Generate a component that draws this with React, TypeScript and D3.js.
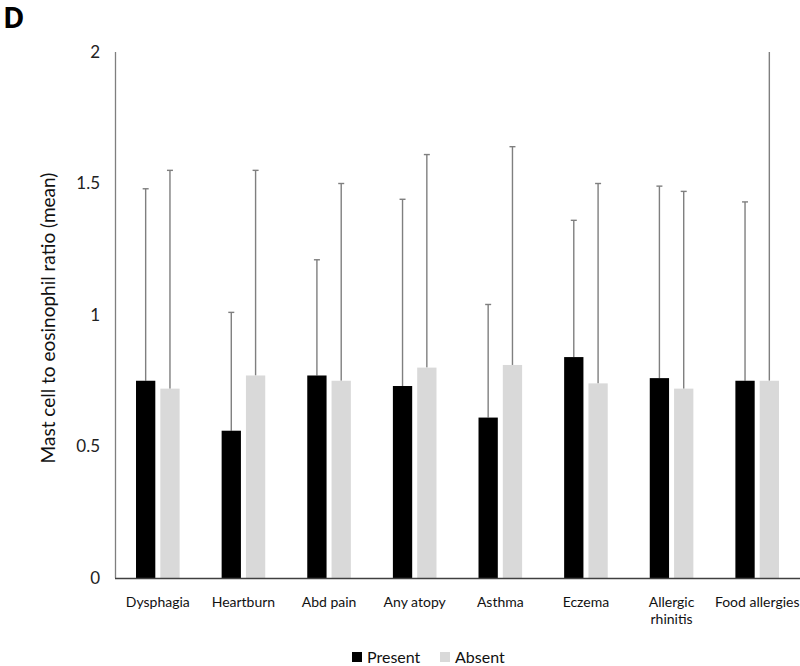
import React from "react";
import * as d3 from "d3";

const categories = [
  "Dysphagia",
  "Heartburn",
  "Abd pain",
  "Any atopy",
  "Asthma",
  "Eczema",
  "Allergic rhinitis",
  "Food allergies",
];
const seriesNames = ["Present", "Absent"];
const presentMeans = [0.75, 0.56, 0.77, 0.73, 0.61, 0.84, 0.76, 0.75];
const absentMeans = [0.72, 0.77, 0.75, 0.8, 0.81, 0.74, 0.72, 0.75];
// upper end of the error bars (mean + SD)
const presentUpper = [1.48, 1.01, 1.21, 1.44, 1.04, 1.36, 1.49, 1.43];
const absentUpper = [1.55, 1.55, 1.5, 1.61, 1.64, 1.5, 1.47, 2.05];
const yTicks = [0, 0.5, 1, 1.5, 2];

const colors: Record<string, string> = { Present: "#000000", Absent: "#d9d9d9" };
const FONT = "Lato, 'Open Sans', sans-serif";

export default function App() {
  const width = 800;
  const height = 666;
  const left = 115;
  const right = 800;
  const top = 52;
  const bottom = 578;

  const x0 = d3.scaleBand<string>().domain(categories).range([left, right]).padding(0);
  const bw = x0.bandwidth();
  const x1 = d3
    .scaleBand<string>()
    .domain(seriesNames)
    .range([bw / 2 - 21.8, bw / 2 + 21.8])
    .paddingInner(0.206)
    .paddingOuter(0);
  const y = d3.scaleLinear().domain([0, 2]).range([bottom, top]);

  const rows = categories.map((c, i) => ({
    cat: c,
    bars: [
      { s: "Present", v: presentMeans[i], hi: presentUpper[i] },
      { s: "Absent", v: absentMeans[i], hi: absentUpper[i] },
    ],
  }));

  return (
    <svg
      width={width}
      height={height}
      style={{ position: "absolute", left: 0, top: 0, background: "#fff" }}
      fontFamily={FONT}
    >
      <text x={3} y={28} fontSize={29} fontWeight="bold" fontFamily="'Open Sans', sans-serif">
        D
      </text>

      {/* y tick labels */}
      {yTicks.map((t) => (
        <text key={t} x={100} y={y(t)} dy="0.35em" textAnchor="end" fontSize={17} fill="#222">
          {d3.format("")(t)}
        </text>
      ))}

      <text
        transform={`translate(48,${(top + bottom) / 2 + 3}) rotate(-90)`}
        textAnchor="middle"
        dy="0.35em"
        fontSize={19}
        fill="#111"
      >
        Mast cell to eosinophil ratio (mean)
      </text>

      {/* error bars */}
      {rows.map((r) =>
        r.bars.map((b) => {
          const cx = (x0(r.cat) as number) + (x1(b.s) as number) + x1.bandwidth() / 2;
          const yHi = y(Math.min(b.hi, 2));
          return (
            <g key={r.cat + b.s + "e"} stroke="#7f7f7f" strokeWidth={1.4}>
              <line x1={cx} x2={cx} y1={y(b.v)} y2={yHi} />
              {b.hi <= 2 && <line x1={cx - 3} x2={cx + 3} y1={yHi} y2={yHi} />}
            </g>
          );
        })
      )}

      {/* bars */}
      {rows.map((r) =>
        r.bars.map((b) => (
          <rect
            key={r.cat + b.s}
            x={(x0(r.cat) as number) + (x1(b.s) as number)}
            y={y(b.v)}
            width={x1.bandwidth()}
            height={y(0) - y(b.v)}
            fill={colors[b.s]}
          />
        ))
      )}

      {/* axes */}
      <line x1={left + 0.5} x2={left + 0.5} y1={top} y2={bottom} stroke="#7f7f7f" strokeWidth={1.3} />
      <line x1={left} x2={right} y1={bottom + 0.5} y2={bottom + 0.5} stroke="#404040" strokeWidth={1.5} />

      {/* category labels */}
      {categories.map((c) => {
        const cx = (x0(c) as number) + bw / 2;
        const parts = c === "Allergic rhinitis" ? ["Allergic", "rhinitis"] : [c];
        return (
          <text key={c} x={cx} y={607} textAnchor="middle" fontSize={14} fill="#111">
            {parts.map((p, i) => (
              <tspan key={p} x={cx} dy={i === 0 ? 0 : 17}>
                {p}
              </tspan>
            ))}
          </text>
        );
      })}

      {/* legend */}
      {seriesNames.map((s, i) => {
        const lx = i === 0 ? 352 : 440;
        return (
          <g key={s}>
            <rect x={lx} y={652} width={10} height={10} fill={colors[s]} />
            <text x={lx + 15} y={663} fontSize={16} fill="#111">
              {s}
            </text>
          </g>
        );
      })}
    </svg>
  );
}
